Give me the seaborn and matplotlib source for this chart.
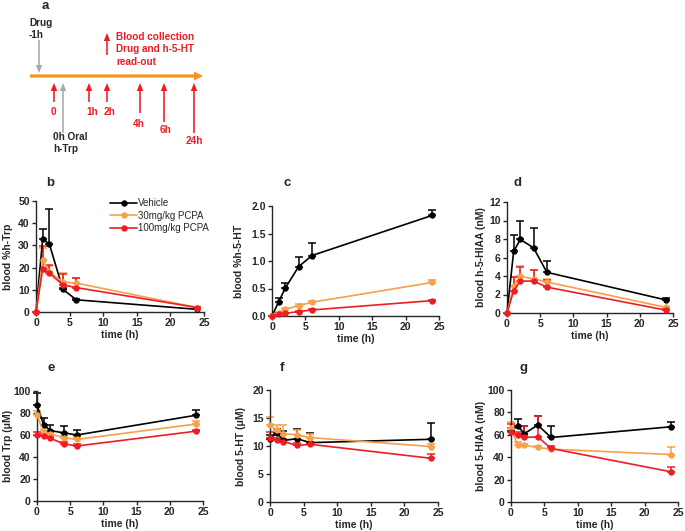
import numpy as np
import pandas as pd
import matplotlib
matplotlib.use("Agg")
import matplotlib.pyplot as plt
from matplotlib.lines import Line2D
import seaborn as sns

# ---------------- data ----------------
times = [0, 1, 2, 4, 6, 24]
groups = ["Vehicle", "30mg/kg PCPA", "100mg/kg PCPA"]
colors = ["#000000", "#F7A04A", "#EE1C25"]

# panel b: blood %h-Trp
b_veh = [0, 33.0, 30.5, 10.2, 5.5, 1.2]
b_30 = [0, 23.5, 18.0, 13.5, 13.0, 2.0]
b_100 = [0, 19.5, 17.5, 12.2, 11.0, 2.0]
b_veh_err = [0, 4.5, 16.0, 0.5, 0.3, 0.3]
b_30_err = [0, 5.5, 2.5, 4.0, 2.3, 0.3]
b_100_err = [0, 10.3, 3.5, 5.0, 4.2, 0.3]

# panel c: blood %h-5-HT
c_veh = [0, 0.26, 0.51, 0.90, 1.10, 1.83]
c_30 = [0, 0.06, 0.12, 0.19, 0.25, 0.61]
c_100 = [0, 0.04, 0.05, 0.08, 0.11, 0.28]
c_veh_err = [0, 0.06, 0.09, 0.18, 0.23, 0.09]
c_30_err = [0, 0.01, 0.02, 0.02, 0.02, 0.04]
c_100_err = [0, 0.01, 0.01, 0.01, 0.01, 0.02]

# panel d: blood h-5-HIAA (nM)
d_veh = [0, 6.65, 7.95, 7.05, 4.4, 1.4]
d_30 = [0, 2.9, 3.95, 3.7, 3.35, 0.6]
d_100 = [0, 2.4, 3.45, 3.45, 2.8, 0.3]
d_veh_err = [0, 1.8, 2.0, 2.1, 1.2, 0.2]
d_30_err = [0, 1.0, 1.1, 1.0, 0.3, 0.1]
d_100_err = [0, 1.5, 1.5, 1.2, 0.8, 0.1]

# panel e: blood Trp (uM)
e_veh = [87, 69.5, 64, 62, 60, 78]
e_30 = [78.5, 62, 61, 57.5, 56, 70]
e_100 = [60, 59, 57, 52, 50, 63.5]
e_veh_err = [11, 6, 5.5, 6, 5, 4.5]
e_30_err = [3, 3, 2, 2, 2, 2.5]
e_100_err = [3, 2, 1.5, 1.5, 1.5, 1.5]

# panel f: blood 5-HT (uM)
f_veh = [11.2, 12.4, 11.0, 11.3, 10.6, 11.2]
f_30 = [13.7, 12.8, 12.2, 12.0, 11.5, 9.9]
f_100 = [11.5, 11.0, 10.8, 10.1, 10.3, 7.8]
f_veh_err = [0.8, 0.6, 1.7, 1.7, 1.7, 2.9]
f_30_err = [1.5, 0.9, 1.5, 0.8, 0.7, 0.4]
f_100_err = [1.0, 0.5, 0.4, 0.4, 0.4, 0.8]

# panel g: blood 5-HIAA (nM)
g_veh = [63.5, 68, 61, 68.7, 57.6, 67.2]
g_30 = [66, 50.7, 50.7, 48.7, 47.2, 42.4]
g_100 = [62.7, 59.7, 57.6, 58.2, 47.8, 26.9]
g_veh_err = [3, 6.5, 7, 8, 10, 4.5]
g_30_err = [5.5, 3, 1.5, 1.5, 1, 6.5]
g_100_err = [7, 3, 10, 19, 2, 4.5]

panel_letters = ["b", "c", "d", "e", "f", "g"]
ylabels = ["blood %h-Trp", "blood %h-5-HT", "blood h-5-HIAA (nM)",
           "blood Trp (\u03bcM)", "blood 5-HT (\u03bcM)", "blood 5-HIAA (nM)"]
xlabel = "time (h)"
xticks = [0, 5, 10, 15, 20, 25]
yticks_list = [[0, 10, 20, 30, 40, 50], [0.0, 0.5, 1.0, 1.5, 2.0], [0, 2, 4, 6, 8, 10, 12],
               [0, 20, 40, 60, 80, 100], [0, 5, 10, 15, 20], [0, 20, 40, 60, 80, 100]]
ytick_labels = [["0", "10", "20", "30", "40", "50"], ["0.0", "0.5", "1.0", "1.5", "2.0"],
                ["0", "2", "4", "6", "8", "10", "12"], ["0", "20", "40", "60", "80", "100"],
                ["0", "5", "10", "15", "20"], ["0", "20", "40", "60", "80", "100"]]

# schematic (panel a) labels
sample_labels = ["0", "1h", "2h", "4h", "6h", "24h"]
legend_text_a = ["Blood collection", "Drug and h-5-HT", "read-out"]

panels = [
    (b_veh, b_30, b_100, b_veh_err, b_30_err, b_100_err),
    (c_veh, c_30, c_100, c_veh_err, c_30_err, c_100_err),
    (d_veh, d_30, d_100, d_veh_err, d_30_err, d_100_err),
    (e_veh, e_30, e_100, e_veh_err, e_30_err, e_100_err),
    (f_veh, f_30, f_100, f_veh_err, f_30_err, f_100_err),
    (g_veh, g_30, g_100, g_veh_err, g_30_err, g_100_err),
]

# ---------------- style ----------------
sns.set_style("ticks")
plt.rcParams["font.family"] = ["Liberation Sans", "DejaVu Sans"]
plt.rcParams["axes.linewidth"] = 1.0
plt.rcParams["xtick.major.width"] = 1.0
plt.rcParams["ytick.major.width"] = 1.0
plt.rcParams["xtick.major.size"] = 3
plt.rcParams["ytick.major.size"] = 3
plt.rcParams["xtick.major.pad"] = 1.5
plt.rcParams["ytick.major.pad"] = 1.5

W, H = 685, 531
fig = plt.figure(figsize=(W / 100, H / 100), dpi=100)

def px_axes(x0, x1, ytop, ybot):
    return fig.add_axes([x0 / W, (H - ybot) / H, (x1 - x0) / W, (ybot - ytop) / H])

# axes rectangles in pixels: x_left, x_right, y_top, y_bottom
rects = [(36, 204, 201, 312), (272, 439, 206, 316), (507, 673, 202, 313),
         (37, 203, 391, 501), (270, 438, 390, 502), (511, 678, 390, 502)]
ylabel_x = [8, 238, 480, 8, 240, 480]
letter_pos = [(50, 183), (287, 183), (518, 183), (51, 368), (282, 368), (523, 368)]

FS = 7.5
for i, (rect, series) in enumerate(zip(rects, panels)):
    ax = px_axes(*rect)
    vals = series[:3]
    errs = series[3:]
    df = pd.DataFrame({
        "time": times * 3,
        "value": vals[0] + vals[1] + vals[2],
        "group": sum([[g] * len(times) for g in groups], []),
    })
    for k in range(3):
        ax.errorbar(times, vals[k], yerr=[np.zeros(len(times)), errs[k]], fmt="none",
                    ecolor=colors[k], elinewidth=1.1, capsize=3, capthick=1.1,
                    clip_on=False, zorder=2 + k * 0.1)
    sns.lineplot(data=df, x="time", y="value", hue="group", hue_order=groups,
                 palette=colors, marker="o", markersize=4.6, markeredgewidth=0,
                 linewidth=1.2, errorbar=None, legend=False, ax=ax, clip_on=False,
                 zorder=3)
    ax.set_xlim(0, 25)
    yt = yticks_list[i]
    ax.set_ylim(yt[0], yt[-1])
    ax.set_xticks(xticks)
    ax.set_xticklabels([str(t) for t in xticks], fontsize=FS, fontweight="bold")
    ax.set_yticks(yt)
    ax.set_yticklabels(ytick_labels[i], fontsize=FS, fontweight="bold")
    sns.despine(ax=ax)
    ax.set_xlabel(xlabel, fontsize=FS, fontweight="bold")
    ax.set_ylabel(ylabels[i], fontsize=FS, fontweight="bold")
    x0, x1, yt_px, yb_px = rect
    # ylabel anchor is the text's right edge after rotation -> add half text height
    ax.yaxis.set_label_coords((ylabel_x[i] + 5.5 - x0) / (x1 - x0), 0.5)
    # xlabel anchor is the top of the text
    ax.xaxis.set_label_coords(0.5, -18.0 / (yb_px - yt_px))
    lx, ly = letter_pos[i]
    fig.text(lx / W, 1 - ly / H, panel_letters[i], fontsize=9.5, fontweight="bold",
             ha="center", va="center")
    if i == 0:
        handles = [Line2D([0], [0], color=c, lw=1.2, marker="o", markersize=4.6,
                          markeredgewidth=0) for c in colors]
        ax.legend(handles, groups, loc="upper left", bbox_to_anchor=(0.42, 1.06),
                  frameon=False, fontsize=7, handlelength=2.7, handletextpad=0.1,
                  labelspacing=0.25, borderaxespad=0)

# ---------------- panel a: schematic ----------------
axa = fig.add_axes([0, (H - 160) / H, 300 / W, 160 / H])
axa.set_xlim(0, 300)
axa.set_ylim(160, 0)
axa.axis("off")
orange = "#F7941E"
red = "#ED1C24"
grey = "#A7A9AC"

axa.arrow(30, 76, 173, 0, width=3.2, head_width=9, head_length=9,
          length_includes_head=True, color=orange, lw=0)

def up_arrow(x, tail, tip, color):
    axa.arrow(x, tail, 0, tip - tail, width=1.6, head_width=6.5, head_length=8,
              length_includes_head=True, color=color, lw=0)

arrow_x = [54, 89, 107, 140, 164, 194]
arrow_tail = [102, 102, 102, 113, 122, 133]
label_xy = [(53, 112), (92, 112), (109, 112), (139, 124), (166, 130), (194, 141)]
for ax_x, tl, lab, (tx, ty) in zip(arrow_x, arrow_tail, sample_labels, label_xy):
    up_arrow(ax_x, tl, 83, red)
    axa.text(tx, ty, lab, color=red, fontsize=7.2, fontweight="bold",
             ha="center", va="center")

# legend arrow
up_arrow(107, 55, 33, red)
for j, t in enumerate(legend_text_a):
    axa.text(116, 37 + j * 12.5, t, color=red, fontsize=7.2, fontweight="bold",
             ha="left", va="center")

# drug arrow (-1h)
axa.arrow(39, 40, 0, 33, width=1.6, head_width=6.5, head_length=8,
          length_includes_head=True, color=grey, lw=0)
axa.text(29, 23, "Drug", fontsize=7.2, fontweight="bold", ha="left", va="center")
axa.text(29, 35, "-1h", fontsize=7.2, fontweight="bold", ha="left", va="center")

# oral h-Trp arrow (0h)
up_arrow(63, 133, 83, grey)
axa.text(53, 137, "0h Oral", fontsize=7.2, fontweight="bold", ha="left", va="center")
axa.text(53, 149, "h-Trp", fontsize=7.2, fontweight="bold", ha="left", va="center")

fig.text(45 / W, 1 - 6 / H, "a", fontsize=9.5, fontweight="bold", ha="center", va="center")

fig.savefig("out.png", dpi=100)
